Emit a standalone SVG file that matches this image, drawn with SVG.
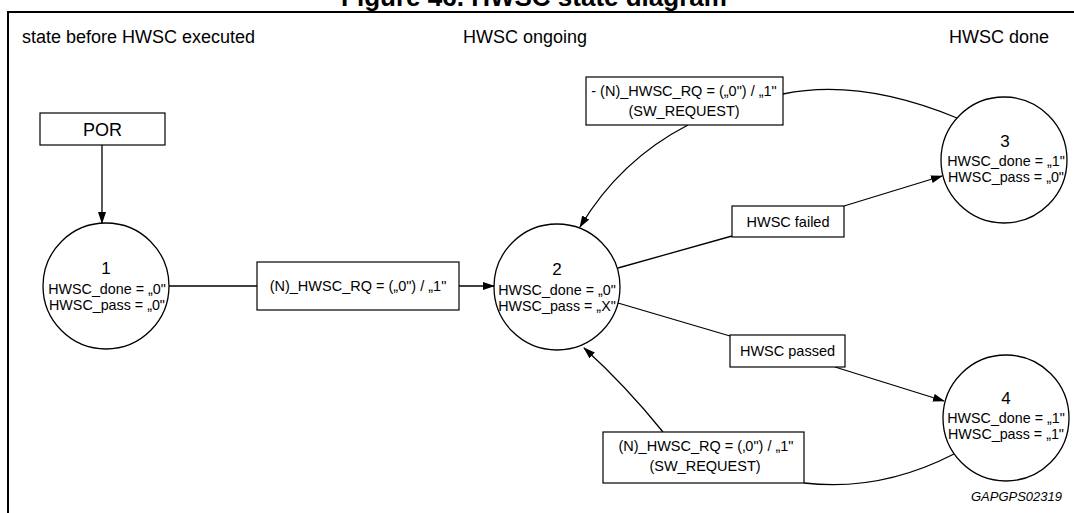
<svg xmlns="http://www.w3.org/2000/svg" width="1074" height="513" viewBox="0 0 1074 513">
<defs>
<marker id="arr" markerWidth="12" markerHeight="8" refX="11" refY="4" orient="auto" markerUnits="userSpaceOnUse">
<path d="M0,0 L12,4 L0,8 Z" fill="#000"/>
</marker>
<style>
text{font-family:"Liberation Sans",Arial,sans-serif;fill:#000}
.hdr{font-size:18px}
.num{font-size:17px;text-anchor:middle}
.st{font-size:14.3px;text-anchor:middle}
.lbl{font-size:14.5px;text-anchor:middle}
.box{fill:#fff;stroke:#000;stroke-width:1.2}
.circ{fill:#fff;stroke:#000;stroke-width:1.3}
.con{fill:none;stroke:#000;stroke-width:1.3}
</style>
</defs>
<rect width="1074" height="513" fill="#fff"/>
<text x="534" y="6" font-size="26" font-weight="bold" text-anchor="middle">Figure 46. HWSC state diagram</text>
<path d="M8,513 L8,12 L1074,12" fill="none" stroke="#000" stroke-width="2"/>
<text class="hdr" x="22" y="43">state before HWSC executed</text>
<text class="hdr" x="463" y="43">HWSC ongoing</text>
<text class="hdr" x="1049" y="43" text-anchor="end">HWSC done</text>

<g id="connectors">
<path class="con" d="M102,145 L102,223" marker-end="url(#arr)"/>
<path class="con" d="M169,286 L257,286"/>
<path class="con" d="M459,286 L494,286" marker-end="url(#arr)"/>
<path class="con" d="M618,268 L732,236"/>
<path class="con" d="M844,206 L942,176" marker-end="url(#arr)"/>
<path class="con" d="M618,303 L730,336"/>
<path class="con" d="M835,367 L944,401" marker-end="url(#arr)"/>
<path class="con" d="M957,118 Q860,78 783,94"/>
<path class="con" d="M688,125 Q620,160 580,227" marker-end="url(#arr)"/>
<path class="con" d="M954,454 Q880,492 804,483"/>
<path class="con" d="M663,432 Q625,385 584,348" marker-end="url(#arr)"/>
</g>

<g id="por">
<rect class="box" x="40" y="113" width="125" height="32"/>
<text class="hdr" x="102.5" y="136" text-anchor="middle">POR</text>
</g>

<g id="state1">
<circle class="circ" cx="106" cy="286" r="63"/>
<text class="num" x="106" y="274">1</text>
<text class="st" x="107" y="294">HWSC_done = „0"</text>
<text class="st" x="107" y="310">HWSC_pass = „0"</text>
</g>

<g id="state2">
<circle class="circ" cx="557" cy="287" r="63"/>
<text class="num" x="557" y="275">2</text>
<text class="st" x="557" y="295">HWSC_done = „0"</text>
<text class="st" x="557" y="311">HWSC_pass = „X"</text>
</g>

<g id="state3">
<circle class="circ" cx="1004" cy="160" r="63"/>
<text class="num" x="1005" y="147">3</text>
<text class="st" x="1006" y="166">HWSC_done = „1"</text>
<text class="st" x="1006" y="182">HWSC_pass = „0"</text>
</g>

<g id="state4">
<circle class="circ" cx="1006" cy="418" r="63"/>
<text class="num" x="1006" y="404">4</text>
<text class="st" x="1006" y="423">HWSC_done = „1"</text>
<text class="st" x="1006" y="439">HWSC_pass = „1"</text>
</g>

<g id="box-rq">
<rect class="box" x="257" y="262" width="202" height="48"/>
<text class="lbl" x="358" y="291">(N)_HWSC_RQ = („0") / „1"</text>
</g>

<g id="box-top">
<rect class="box" x="586" y="77" width="197" height="48"/>
<text class="lbl" x="684" y="96">- (N)_HWSC_RQ = („0") / „1"</text>
<text class="lbl" x="684" y="116">(SW_REQUEST)</text>
</g>

<g id="box-failed">
<rect class="box" x="732" y="206" width="112" height="31"/>
<text class="lbl" x="788" y="227">HWSC failed</text>
</g>

<g id="box-passed">
<rect class="box" x="730" y="335" width="115" height="32"/>
<text class="lbl" x="787.5" y="356">HWSC passed</text>
</g>

<g id="box-bottom">
<rect class="box" x="603" y="432" width="201" height="51"/>
<text class="lbl" x="706" y="451">(N)_HWSC_RQ = (‚0") / „1"</text>
<text class="lbl" x="705" y="471">(SW_REQUEST)</text>
</g>

<text x="1062" y="501" font-size="13" font-style="italic" text-anchor="end">GAPGPS02319</text>
</svg>
